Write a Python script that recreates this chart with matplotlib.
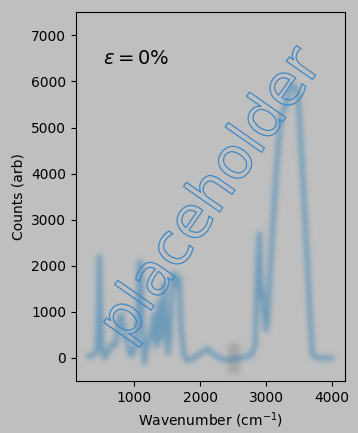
import numpy as np
import matplotlib
matplotlib.use("Agg")
import matplotlib.pyplot as plt
import matplotlib.colors as mcolors
import matplotlib.patheffects as pe
from matplotlib.patches import Rectangle

# ---- data ----
wavenumber = [300, 330, 360, 400, 430, 455, 470, 485, 510, 540, 580, 620, 660, 700,
              730, 760, 800, 840, 880, 920, 950, 980, 1020, 1050, 1080, 1100, 1120,
              1150, 1180, 1210, 1240, 1270, 1300, 1320, 1340, 1370, 1400, 1420, 1450,
              1480, 1510, 1540, 1570, 1600, 1620, 1650, 1680, 1710, 1750, 1800, 1900,
              2000, 2100, 2200, 2300, 2400, 2500, 2600, 2700, 2780, 2830, 2870, 2895,
              2910, 2925, 2940, 2960, 3000, 3020, 3050, 3100, 3150, 3200, 3230, 3300,
              3350, 3400, 3430, 3480, 3550, 3600, 3650, 3690, 3720, 3800, 3900, 4000]
counts = [50, 20, 60, 100, 150, 900, 2200, 1200, 200, 0, 80, 200, 300, 250,
          400, 800, 950, 700, 400, 150, 50, 100, 300, 900, 2100, 2000, 800,
          -100, 200, 300, 500, 700, 950, 400, 250, 1200, 400, 900, 1600,
          600, 100, 500, 1500, 1850, 1600, 1550, 1750, 600, 50, -50, 0,
          100, 200, 80, 0, -50, -30, 0, 20, 80, 300, 2000, 2700,
          2000, 1300, 1500, 1000, 600, 800, 1700, 2900, 4000, 4900, 5300, 5500,
          5800, 5920, 5900, 5750, 4000, 2700, 1300, 200, 30, 0, 0, 0]
band_x = [2430, 2570]
band_y = [-300, 300]
label_text = r'$\varepsilon = 0\%$'

BG = '#bfbfbf'


def blur_filter(color, sigma, alpha_scale):
    rgb = mcolors.to_rgb(color)

    def f(im, dpi):
        pad = int(np.ceil(3 * sigma))
        a = np.pad(im[:, :, 3], pad)
        r = np.arange(-pad, pad + 1)
        k = np.exp(-0.5 * (r / sigma) ** 2)
        k /= k.sum()
        a = np.apply_along_axis(lambda m: np.convolve(m, k, mode='same'), 0, a)
        a = np.apply_along_axis(lambda m: np.convolve(m, k, mode='same'), 1, a)
        out = np.zeros(a.shape + (4,))
        out[..., :3] = rgb
        out[..., 3] = np.clip(a * alpha_scale, 0, 1)
        return out, -pad, -pad
    return f


fig = plt.figure(figsize=(3.58, 4.33), dpi=100, facecolor=BG)
ax = fig.add_axes([0.2123, 0.12, 0.75, 0.8516], facecolor=BG)

line, = ax.plot(wavenumber, counts, color='C0', lw=3.4,
                solid_joinstyle='round', solid_capstyle='round')
line.set_agg_filter(blur_filter('#1f77b4', 2.5, 0.5))

rect = Rectangle((band_x[0], band_y[0]), band_x[1] - band_x[0],
                 band_y[1] - band_y[0], facecolor='#888888', edgecolor='#666666',
                 lw=2)
rect.set_agg_filter(blur_filter('#8a8a8a', 2.5, 0.45))
ax.add_patch(rect)

ax.set_ylim(-500, 7500)
ax.set_xlabel('Wavenumber (cm$^{-1}$)')
ax.set_ylabel('Counts (arb)')

ax.text(0.1, 0.86, label_text, transform=ax.transAxes, fontsize=14,
        ha='left', va='baseline')

ax.text(0.505, 0.505, 'placeholder', transform=ax.transAxes, fontsize=42,
        rotation=55, ha='center', va='center', color='none',
        path_effects=[pe.Stroke(linewidth=0.9, foreground='#3f88c5')])

fig.savefig('out.png', dpi=100, facecolor=BG)
